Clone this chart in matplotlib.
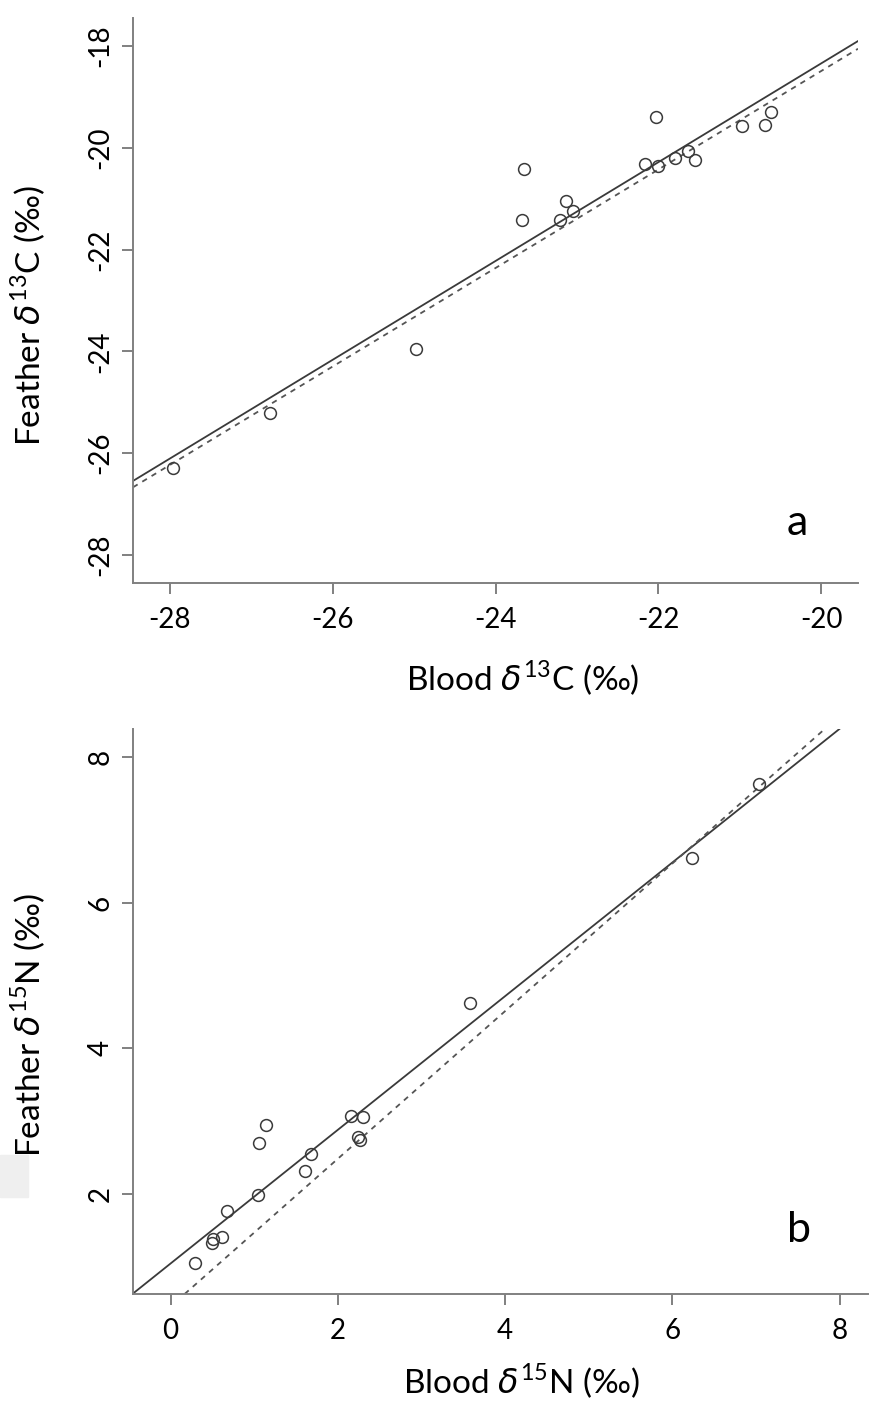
import matplotlib
matplotlib.use("Agg")
from matplotlib import pyplot as plt
from matplotlib.patches import Rectangle

plt.rcParams['font.family'] = ['Lato', 'DejaVu Sans']
plt.rcParams['mathtext.fontset'] = 'custom'
plt.rcParams['mathtext.rm'] = 'Lato'
plt.rcParams['mathtext.it'] = 'DejaVu Sans:italic'

# panel a: carbon
blood_c = [-27.96, -26.77, -24.98, -23.65, -23.67, -23.13, -23.21, -23.05, -22.03,
           -22.17, -22.00, -21.80, -21.64, -21.55, -20.98, -20.69, -20.62]
feather_c = [-26.30, -25.21, -23.95, -20.42, -21.42, -21.05, -21.42, -21.25, -19.39,
             -20.31, -20.35, -20.20, -20.06, -20.24, -19.58, -19.55, -19.30]
fit_c = (0.971, 1.08)       # slope, intercept (solid)
ref_c = (0.968, 0.87)       # dashed

# panel b: nitrogen
blood_n = [0.29, 0.50, 0.51, 0.61, 0.67, 1.05, 1.06, 1.14, 1.61, 1.68, 2.16, 2.30,
           2.24, 2.27, 3.58, 6.23, 7.04]
feather_n = [1.05, 1.32, 1.37, 1.41, 1.76, 1.98, 2.70, 2.95, 2.31, 2.55, 3.07, 3.06,
             2.78, 2.74, 4.62, 6.62, 7.63]
fit_n = (0.919, 1.04)
ref_n = (1.015, 0.45)

W, H = 869, 1403
fig = plt.figure(figsize=(W / 100, H / 100), dpi=100)

spine_col = '#808080'
mark_col = '#3a3a3a'

# faint grey smudge left of panel b (scan artefact)
fig.patches.append(Rectangle((0, 1 - 1197 / H), 28 / W, 42 / H, transform=fig.transFigure,
                             color='#efefef', zorder=0))


def panel(rect, x, y, fit, ref, xlim, ylim, xt, yt, xlab, ylab, letter, letter_xy):
    ax = fig.add_axes(rect)
    ax.patch.set_alpha(0)
    ax.plot(x, y, 'o', ms=8.5, mfc='none', mec=mark_col, mew=1.1, zorder=3)
    ax.axline((0, fit[1]), slope=fit[0], color='#3a3a3a', lw=1.3)
    ax.axline((0, ref[1]), slope=ref[0], color='#555555', lw=1.3, ls=(0, (3, 3)))
    ax.set_xlim(*xlim)
    ax.set_ylim(*ylim)
    ax.set_xticks(xt)
    ax.set_yticks(yt)
    ax.set_xticklabels([str(v) for v in xt])
    ax.set_yticklabels([str(v) for v in yt], rotation=90, va='center')
    for s in ['top', 'right']:
        ax.spines[s].set_visible(False)
    for s in ['left', 'bottom']:
        ax.spines[s].set_color(spine_col)
        ax.spines[s].set_linewidth(1.4)
    ax.tick_params(length=8, width=1.4, color=spine_col, labelsize=20, pad=9)
    ax.tick_params(axis='y', pad=6)
    fig.text(xlab[1] / W, 1 - xlab[2] / H, xlab[0], fontsize=24, ha='center', va='center')
    fig.text(ylab[1] / W, 1 - ylab[2] / H, ylab[0], fontsize=24, ha='center', va='center',
             rotation=90)
    fig.text(letter_xy[0] / W, 1 - letter_xy[1] / H, letter, fontsize=31, ha='center',
             va='center')
    return ax


panel([133 / W, 1 - 583 / H, 725 / W, 565 / H], blood_c, feather_c, fit_c, ref_c,
      (-28.45, -19.55), (-28.55, -17.45), [-28, -26, -24, -22, -20],
      [-28, -26, -24, -22, -20, -18],
      ("Blood $\\delta^{\\mathrm{13}}$C (‰)", 523, 678),
      ("Feather $\\delta^{\\mathrm{13}}$C (‰)", 28, 316),
      'a', (797, 523))

panel([133 / W, 1 - 1294 / H, 735 / W, 565 / H], blood_n, feather_n, fit_n, ref_n,
      (-0.45, 8.34), (0.62, 8.39), [0, 2, 4, 6, 8], [2, 4, 6, 8],
      ("Blood $\\delta^{\\mathrm{15}}$N (‰)", 521, 1381),
      ("Feather $\\delta^{\\mathrm{15}}$N (‰)", 28, 1025),
      'b', (799, 1230))

fig.savefig('out.png', dpi=100)
